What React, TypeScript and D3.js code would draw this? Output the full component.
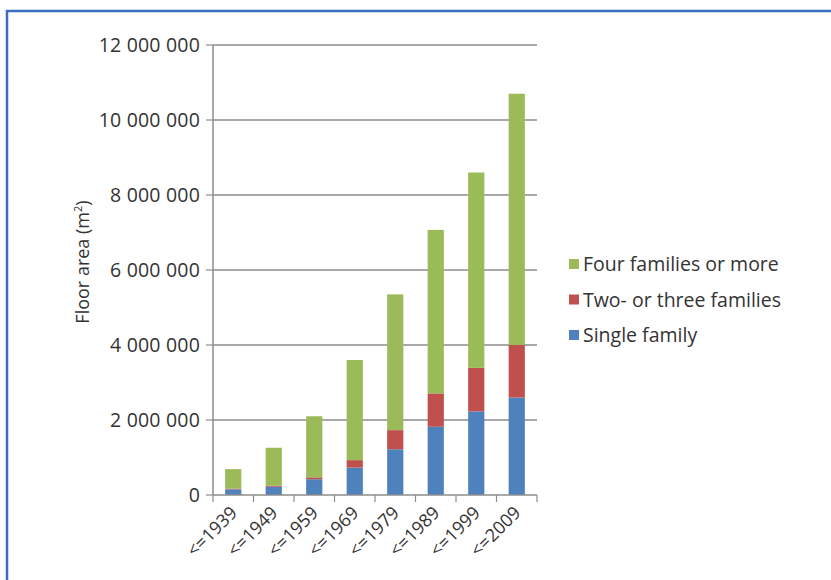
import React from "react";
import * as d3 from "d3";

const categories = ["<=1939", "<=1949", "<=1959", "<=1969", "<=1979", "<=1989", "<=1999", "<=2009"];
const singleFamily = [150000, 220000, 420000, 730000, 1220000, 1820000, 2230000, 2600000];
const twoThree = [20000, 30000, 50000, 200000, 510000, 890000, 1160000, 1400000];
const fourPlus = [520000, 1010000, 1630000, 2670000, 3620000, 4360000, 5210000, 6700000];
const yTicks = [0, 2000000, 4000000, 6000000, 8000000, 10000000, 12000000];
const seriesNames = ["Single family", "Two- or three families", "Four families or more"];
const seriesColors = ["#4F81BD", "#C0504D", "#9BBB59"];

const W = 831, H = 580;
const left = 213, right = 537, top = 45, bottom = 495;
const FONT = "'Open Sans', sans-serif";

export default function App() {
  const x = d3.scaleBand<string>().domain(categories).range([left, right]).paddingInner(0.6).paddingOuter(0.3);
  const xOuter = d3.scaleBand<string>().domain(categories).range([left, right]);
  const y = d3.scaleLinear().domain([0, 12000000]).range([bottom, top]);
  const rows = categories.map((c, i) => ({ cat: c, s0: singleFamily[i], s1: twoThree[i], s2: fourPlus[i] }));
  const stack = d3.stack<any>().keys(["s0", "s1", "s2"])(rows);
  const fmt = (v: number) => d3.format(",")(v).replace(/,/g, " ");
  const legendOrder = [2, 1, 0];
  return (
    <svg width={W} height={H} style={{ position: "absolute", left: 0, top: 0, background: "#fff" }}>
      <rect x={0} y={0} width={W} height={H} fill="#fff" />
      <path d={`M7,${H} L7,11 L${W},11`} fill="none" stroke="#3B6DC0" strokeWidth={2.5} />
      {yTicks.map((t) => (
        <g key={t}>
          {t > 0 && <line x1={left} x2={right} y1={y(t)} y2={y(t)} stroke="#8C8C8C" strokeWidth={1.5} />}
          <line x1={left - 7} x2={left} y1={y(t)} y2={y(t)} stroke="#8C8C8C" strokeWidth={1.2} />
          <text x={left - 13} y={y(t)} dy="0.36em" textAnchor="end" fontFamily={FONT} fontSize={19.5} letterSpacing={0.2} fill="#333">
            {fmt(t)}
          </text>
        </g>
      ))}
      <line x1={left} x2={left} y1={top} y2={bottom} stroke="#8C8C8C" strokeWidth={1.5} />
      {stack.map((layer, si) => (
        <g key={si}>
          {layer.map((d, i) => (
            <rect key={i} x={x(categories[i])} width={x.bandwidth()} y={y(d[1])} height={y(d[0]) - y(d[1])} fill={seriesColors[si]} />
          ))}
        </g>
      ))}
      <line x1={left} x2={right} y1={bottom} y2={bottom} stroke="#8C8C8C" strokeWidth={1.5} />
      {categories.concat(["end"]).map((c, i) => {
        const xx = i < categories.length ? (xOuter(c) as number) : right;
        return <line key={i} x1={xx} x2={xx} y1={bottom} y2={bottom + 7} stroke="#8C8C8C" strokeWidth={1.2} />;
      })}
      {categories.map((c) => {
        const cx = (x(c) as number) + x.bandwidth() / 2 + 5;
        const cy = bottom + 19;
        return (
          <text key={c} x={cx} y={cy} textAnchor="end" fontFamily={FONT} fontSize={18} fill="#333" transform={`rotate(-45, ${cx}, ${cy})`}>
            {c}
          </text>
        );
      })}
      <text transform={`translate(89, 262) rotate(-90)`} textAnchor="middle" fontFamily={FONT} fontSize={18} fill="#333">
        Floor area (m<tspan dy="-7" fontSize={11}>2</tspan><tspan dy="7">)</tspan>
      </text>
      {legendOrder.map((si, k) => (
        <g key={si} transform={`translate(569, ${264 + k * 35.5})`}>
          <rect x={0} y={-5} width={10} height={10} fill={seriesColors[si]} />
          <text x={14} y={0} dy="0.36em" fontFamily={FONT} fontSize={19.5} fill="#333">{seriesNames[si]}</text>
        </g>
      ))}
    </svg>
  );
}
